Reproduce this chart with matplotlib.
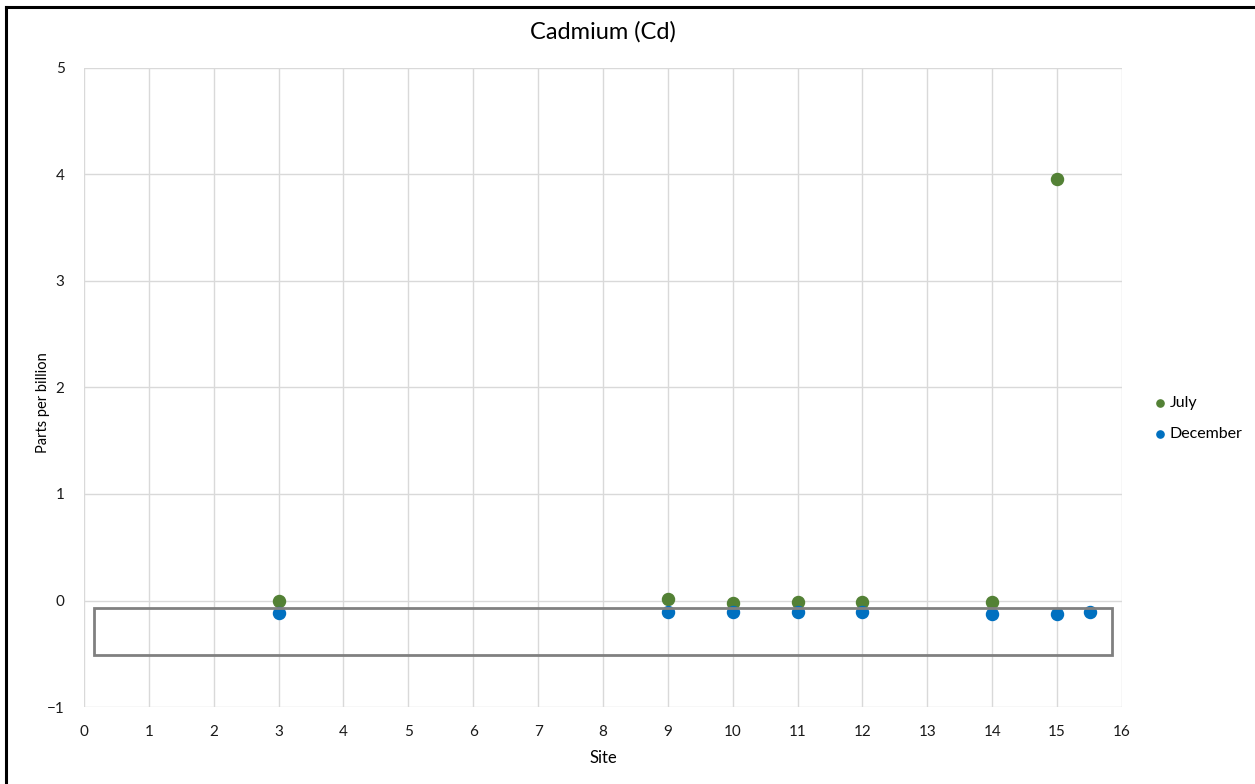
import matplotlib.pyplot as plt
from matplotlib.patches import Rectangle
from matplotlib.lines import Line2D

plt.rcParams['font.family'] = ['Lato', 'DejaVu Sans']

# cadmium readings (ppb) by site
july_sites = [3, 9, 10, 11, 12, 14, 15]
july_ppb = [0.0, 0.01, -0.02, -0.01, -0.01, -0.01, 3.96]
dec_sites = [3, 9, 10, 11, 12, 14, 15, 15.5]
dec_ppb = [-0.12, -0.11, -0.11, -0.11, -0.11, -0.13, -0.13, -0.11]

# highlighted band around the near-zero readings
band_x = [0.15, 15.85]
band_y = [-0.51, -0.07]

fig = plt.figure(figsize=(12.55, 7.84), dpi=100)
ax = fig.add_axes([0.0669, 0.0982, 0.8271, 0.8151])

ax.scatter(july_sites, july_ppb, s=75, color='#538135', label='July', zorder=3)
ax.scatter(dec_sites, dec_ppb, s=75, color='#0070C0', label='December', zorder=3)

ax.add_patch(Rectangle((band_x[0], band_y[0]), band_x[1] - band_x[0],
                       band_y[1] - band_y[0], fill=False,
                       edgecolor='#808080', linewidth=2, zorder=4))

ax.set_xlim(0, 16)
ax.set_ylim(-1, 5)
ax.set_xticks(range(0, 17))
ax.set_yticks(range(-1, 6))
ax.grid(True, color='#d9d9d9', linewidth=1)
ax.set_axisbelow(True)
for s in ax.spines.values():
    s.set_visible(False)
ax.tick_params(length=0, labelsize=11, colors='#1a1a1a')
ax.tick_params(axis='x', pad=13)
ax.tick_params(axis='y', pad=14)

ax.set_title('Cadmium (Cd)', fontsize=17, pad=21)
ax.set_xlabel('Site', fontsize=12, labelpad=8)
ax.set_ylabel('Parts per billion', fontsize=10.5)
ax.yaxis.set_label_coords(-0.033, 0.476)

ax.legend(loc='center left', bbox_to_anchor=(1.021, 0.452), frameon=False,
          fontsize=11.5, handletextpad=0.0, handlelength=1.2, markerscale=0.6,
          labelspacing=1.05, borderaxespad=0)

# frame edges along the top and left of the figure
fig.add_artist(Line2D([6 / 1255, 6 / 1255], [0, 1 - 7 / 784], color='black', lw=2.2))
fig.add_artist(Line2D([6 / 1255, 1], [1 - 7 / 784, 1 - 7 / 784], color='black', lw=2.2))

fig.savefig('out.png', dpi=100, facecolor='white')
